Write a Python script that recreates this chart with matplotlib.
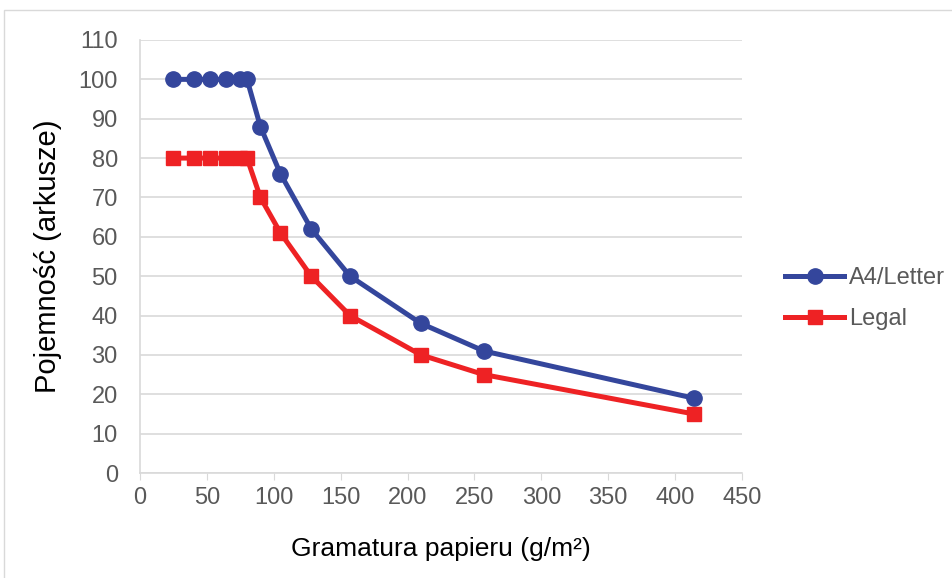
import matplotlib
matplotlib.use("Agg")
from matplotlib import pyplot as plt
from matplotlib.patches import Rectangle

plt.rcParams['font.family'] = ['Liberation Sans', 'DejaVu Sans']

# gramatura papieru (g/m2)
weights = [25, 40, 52, 64, 75, 80, 90, 105, 128, 157, 210, 257, 414]
a4_letter = [100, 100, 100, 100, 100, 100, 88, 76, 62, 50, 38, 31, 19]
legal = [80, 80, 80, 80, 80, 80, 70, 61, 50, 40, 30, 25, 15]

blue = "#34469c"
red = "#ee2224"
grid = "#d9d9d9"
text = "#595959"

fig = plt.figure(figsize=(9.53, 5.78), dpi=100)
fig.patches.append(Rectangle((4 / 953, -0.1), 1.2, 1 - 10 / 578 + 0.1,
                             transform=fig.transFigure, fill=False,
                             edgecolor=grid, linewidth=1))

ax = fig.add_axes([140 / 953, 1 - 473 / 578, 602 / 953, 433 / 578])
ax.plot(weights, a4_letter, color=blue, lw=3.6, marker="o", ms=11,
        label="A4/Letter", zorder=3)
ax.plot(weights, legal, color=red, lw=3.6, marker="s", ms=10,
        label="Legal", zorder=3)

ax.set_xlim(0, 450)
ax.set_ylim(0, 110)
ax.set_xticks(range(0, 451, 50))
ax.set_yticks(range(0, 111, 10))
ax.grid(axis="y", color=grid, lw=1.2)
ax.set_axisbelow(True)
for s in ["top", "right"]:
    ax.spines[s].set_visible(False)
ax.spines["left"].set_color(grid)
ax.spines["bottom"].set_color(grid)
ax.spines["left"].set_linewidth(1.2)
ax.spines["bottom"].set_linewidth(1.2)
ax.tick_params(axis="y", length=0, pad=16, labelsize=17, labelcolor=text)
ax.tick_params(axis="x", length=5, color=grid, pad=5, labelsize=17,
               labelcolor=text)

ax.set_xlabel("Gramatura papieru (g/m²)", fontsize=19, labelpad=20)
ax.set_ylabel("Pojemność (arkusze)", fontsize=21, labelpad=12)

ax.legend(loc="center left", bbox_to_anchor=(1.052, 0.402), frameon=False,
          borderpad=0, fontsize=17, handlelength=2.5, handletextpad=0.2,
          labelcolor=text, labelspacing=0.8)

fig.savefig("out.png", dpi=100)
